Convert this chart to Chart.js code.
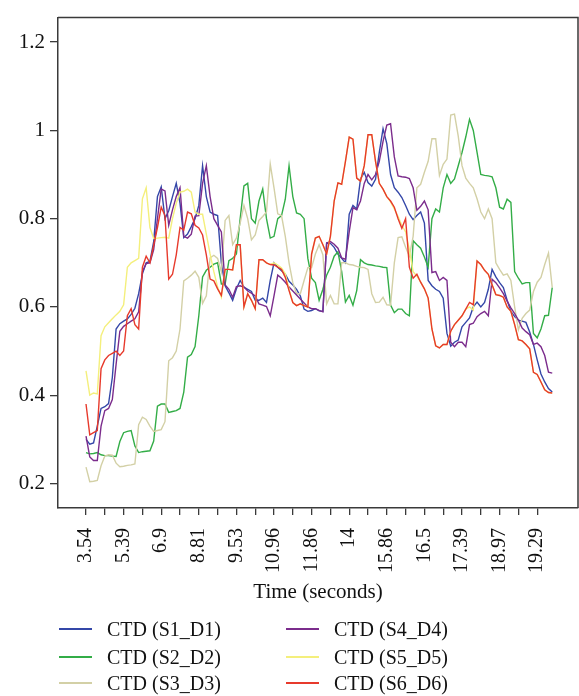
<!DOCTYPE html>
<html><head><meta charset="utf-8">
<script src="https://cdn.jsdelivr.net/npm/chart.js@4/dist/chart.umd.min.js"></script>
<style>
html,body{margin:0;padding:0;background:#fff;}
#wrap{position:relative;width:579px;height:696px;}
#legend{position:absolute;left:0;top:610px;width:579px;height:86px;font-family:"Liberation Serif","Times New Roman",serif;font-size:20px;color:#111;}
.item{position:absolute;display:flex;align-items:center;height:24px;white-space:nowrap;}
.swatch{display:inline-block;width:33px;height:2px;margin-right:15px;}
</style></head>
<body><div id="wrap"><canvas id="c" width="579" height="696"></canvas><div id="legend"></div></div>
<script>
const seriesNames = ['CTD (S1_D1)','CTD (S2_D2)','CTD (S3_D3)','CTD (S4_D4)','CTD (S5_D5)','CTD (S6_D6)'];
const seriesColors = ['#3447a8','#33ad47','#d3d0a6','#7b2c8c','#f4ef7c','#e73a2c'];
const xTickLabels = ['3.54','5.39','6.9','8.81','9.53','10.96','11.86','14','15.86','16.5','17.39','18.97','19.29'];
const xTickIndex = [0,5,10,15,20,25,30,35,40,45,50,55,60,65,70,75,80,85,90,95,100,105,110,115,120];
const yTickValues = [0.2,0.4,0.6,0.8,1.0,1.2];

const s1 = [0.300,0.289,0.292,0.330,0.370,0.374,0.381,0.440,0.550,0.562,
0.568,0.573,0.583,0.597,0.630,0.675,0.700,0.703,0.748,0.850,
0.872,0.800,0.818,0.850,0.880,0.835,0.757,0.765,0.782,0.800,
0.830,0.920,0.850,0.815,0.810,0.807,0.700,0.648,0.632,0.615,
0.641,0.660,0.645,0.640,0.635,0.615,0.615,0.620,0.610,0.660,
0.700,0.690,0.682,0.674,0.658,0.650,0.640,0.625,0.595,0.590,
0.592,0.596,0.591,0.590,0.745,0.744,0.735,0.720,0.710,0.700,
0.810,0.830,0.822,0.890,0.905,0.882,0.874,0.889,0.950,1.004,
0.970,0.900,0.870,0.860,0.848,0.830,0.810,0.798,0.807,0.815,
0.790,0.660,0.648,0.640,0.635,0.620,0.540,0.511,0.520,0.525,
0.555,0.565,0.575,0.600,0.611,0.600,0.610,0.640,0.685,0.668,
0.655,0.644,0.615,0.590,0.578,0.570,0.568,0.565,0.543,0.515,
0.480,0.448,0.430,0.415,0.407];

const s2 = [0.270,0.267,0.268,0.270,0.265,0.263,0.263,0.262,0.261,0.295,
0.315,0.318,0.320,0.285,0.270,0.272,0.273,0.274,0.296,0.375,
0.380,0.380,0.361,0.363,0.365,0.370,0.407,0.486,0.492,0.510,
0.580,0.668,0.683,0.690,0.697,0.700,0.652,0.652,0.705,0.710,
0.720,0.800,0.874,0.880,0.800,0.790,0.840,0.867,0.800,0.756,
0.760,0.800,0.807,0.844,0.920,0.850,0.813,0.810,0.800,0.710,
0.665,0.655,0.615,0.640,0.672,0.690,0.715,0.725,0.680,0.611,
0.626,0.604,0.637,0.707,0.700,0.696,0.695,0.693,0.692,0.690,
0.689,0.604,0.587,0.595,0.595,0.585,0.580,0.750,0.741,0.733,
0.713,0.690,0.800,0.822,0.815,0.870,0.900,0.880,0.890,0.920,
0.950,0.985,1.025,1.000,0.950,0.900,0.898,0.897,0.895,0.870,
0.826,0.822,0.844,0.837,0.680,0.665,0.652,0.655,0.655,0.540,
0.530,0.550,0.580,0.581,0.644];

const s3 = [0.237,0.204,0.205,0.207,0.240,0.262,0.265,0.264,0.246,0.238,
0.239,0.241,0.242,0.244,0.333,0.350,0.345,0.330,0.318,0.320,
0.322,0.340,0.478,0.485,0.500,0.550,0.659,0.665,0.672,0.681,
0.667,0.608,0.625,0.711,0.717,0.710,0.680,0.796,0.807,0.741,
0.756,0.790,0.830,0.800,0.752,0.763,0.796,0.805,0.815,0.924,
0.870,0.811,0.807,0.760,0.700,0.655,0.630,0.630,0.660,0.689,
0.689,0.720,0.741,0.718,0.607,0.626,0.607,0.607,0.700,0.700,
0.696,0.695,0.692,0.690,0.689,0.685,0.630,0.610,0.611,0.622,
0.605,0.604,0.700,0.757,0.759,0.735,0.715,0.760,0.870,0.878,
0.905,0.930,0.981,0.981,0.898,0.923,0.935,1.035,1.037,0.987,
0.920,0.892,0.880,0.870,0.845,0.815,0.800,0.822,0.800,0.700,
0.685,0.672,0.675,0.660,0.600,0.548,0.574,0.585,0.593,0.635,
0.656,0.667,0.696,0.722,0.644];

const s4 = [0.307,0.260,0.252,0.252,0.330,0.365,0.370,0.390,0.470,0.545,
0.556,0.562,0.568,0.573,0.589,0.680,0.698,0.700,0.730,0.800,
0.867,0.863,0.785,0.820,0.850,0.870,0.760,0.756,0.765,0.806,
0.807,0.880,0.920,0.850,0.800,0.785,0.770,0.650,0.640,0.622,
0.646,0.648,0.645,0.636,0.631,0.625,0.607,0.604,0.601,0.580,
0.625,0.672,0.665,0.656,0.645,0.636,0.627,0.618,0.609,0.600,
0.596,0.596,0.592,0.589,0.745,0.748,0.742,0.733,0.711,0.708,
0.770,0.825,0.820,0.840,0.880,0.900,0.888,0.900,0.930,0.975,
1.012,1.015,0.940,0.897,0.895,0.894,0.891,0.870,0.819,0.828,
0.840,0.820,0.678,0.680,0.660,0.667,0.660,0.520,0.510,0.520,
0.520,0.510,0.560,0.563,0.578,0.585,0.590,0.580,0.663,0.655,
0.643,0.630,0.613,0.598,0.585,0.570,0.552,0.544,0.537,0.515,
0.518,0.510,0.490,0.452,0.450];

const s5 = [0.455,0.400,0.405,0.403,0.535,0.555,0.564,0.573,0.582,0.590,
0.605,0.690,0.700,0.705,0.710,0.845,0.870,0.780,0.755,0.756,
0.757,0.758,0.756,0.800,0.835,0.860,0.862,0.867,0.860,0.815,
0.810,0.810,0.765,0.720,0.680,0.645,0.622,0.685,0.685,0.684,
0.741,0.741,0.600,0.630,0.615,0.596,0.707,0.707,0.700,0.696,
0.700,0.695,0.688,0.675,0.640,0.610,0.603,0.607,0.603,0.600,
0.720,0.756,0.760,0.741,0.720,0.760,0.840,0.881,0.878,0.930,
0.985,0.980,0.892,0.885,0.920,0.990,0.990,0.930,0.880,0.867,
0.850,0.838,0.822,0.805,0.785,0.770,0.730,0.680,0.670,0.656,
0.641,0.620,0.550,0.512,0.507,0.515,0.515,0.545,0.560,0.570,
0.580,0.595,0.600,0.593,0.704,0.696,0.683,0.674,0.650,0.628,
0.626,0.622,0.600,0.590,0.560,0.526,0.523,0.515,0.505,0.452,
0.447,0.430,0.412,0.406,0.405];

const s6 = [0.380,0.310,0.315,0.320,0.460,0.480,0.490,0.495,0.500,0.490,
0.500,0.580,0.596,0.560,0.550,0.690,0.715,0.700,0.740,0.780,
0.826,0.807,0.663,0.674,0.718,0.780,0.774,0.815,0.811,0.785,
0.779,0.763,0.718,0.663,0.659,0.641,0.626,0.685,0.685,0.684,
0.741,0.741,0.600,0.630,0.615,0.596,0.707,0.707,0.700,0.696,
0.695,0.690,0.685,0.667,0.637,0.610,0.603,0.607,0.603,0.600,
0.720,0.756,0.760,0.741,0.720,0.760,0.840,0.881,0.878,0.930,
0.985,0.980,0.892,0.885,0.920,0.990,0.990,0.930,0.880,0.867,
0.850,0.840,0.826,0.800,0.778,0.800,0.690,0.665,0.674,0.656,
0.641,0.620,0.550,0.512,0.507,0.515,0.515,0.545,0.560,0.570,
0.580,0.595,0.610,0.605,0.704,0.696,0.683,0.674,0.650,0.628,
0.626,0.622,0.600,0.590,0.560,0.526,0.523,0.515,0.505,0.452,
0.447,0.430,0.412,0.406,0.405];

const seriesValues = [s1,s2,s3,s4,s5,s6];
const serif = '"Liberation Serif","Times New Roman",serif';

const datasets = seriesValues.map((vals, k) => ({
  label: seriesNames[k],
  data: vals.map((v, i) => ({x: i, y: v})),
  borderColor: seriesColors[k],
  backgroundColor: seriesColors[k],
  borderWidth: 1.4,
  pointRadius: 0,
  tension: 0,
  fill: false,
  order: 5 - k
}));

const frame = {
  id: 'frame',
  afterDraw(chart) {
    const {ctx, chartArea: a} = chart;
    ctx.save();
    ctx.strokeStyle = '#3a3a3a';
    ctx.lineWidth = 1.5;
    ctx.beginPath();
    ctx.moveTo(a.left, a.top); ctx.lineTo(a.right, a.top); ctx.lineTo(a.right, a.bottom);
    ctx.stroke();
    ctx.restore();
  }
};

const chart = new Chart(document.getElementById('c'), {
  type: 'line',
  data: { datasets },
  plugins: [frame],
  options: {
    responsive: false,
    animation: false,
    devicePixelRatio: 1,
    layout: { padding: { top: 8, right: 1, bottom: 86, left: 0 } },
    plugins: { legend: { display: false }, tooltip: { enabled: false } },
    scales: {
      x: {
        type: 'linear', min: -7.45, max: 130.85,
        afterBuildTicks: s => { s.ticks = xTickIndex.map(v => ({ value: v })); },
        afterFit: s => { s.height = 102; },
        ticks: {
          autoSkip: false, minRotation: 90, maxRotation: 90, padding: 13,
          color: '#111', font: { family: serif, size: 20 },
          callback: v => (v % 10 === 0 ? xTickLabels[v / 10] : '')
        },
        grid: { display: true, drawOnChartArea: false, drawTicks: true, tickLength: 7, color: '#3a3a3a', lineWidth: 1.3 },
        border: { display: true, color: '#3a3a3a', width: 1.5 },
        title: { display: true, text: 'Time (seconds)', color: '#111', font: { family: serif, size: 21 }, padding: { top: 0, bottom: 5 } }
      },
      y: {
        min: 0.1444, max: 1.2556,
        afterBuildTicks: s => { s.ticks = yTickValues.map(v => ({ value: v })); },
        afterFit: s => { s.width = 58; },
        ticks: {
          padding: 5, color: '#111', font: { family: serif, size: 21 },
          callback: v => String(Number(v.toFixed(1)))
        },
        grid: { display: true, drawOnChartArea: false, drawTicks: true, tickLength: 8, color: '#3a3a3a', lineWidth: 1.3 },
        border: { display: true, color: '#3a3a3a', width: 1.5 }
      }
    }
  }
});

const legend = document.getElementById('legend');
const colX = [59, 286];
const rowTop = [7, 35, 61];
chart.data.datasets.forEach((ds, k) => {
  const item = document.createElement('div');
  item.className = 'item';
  item.style.left = colX[Math.floor(k / 3)] + 'px';
  item.style.top = rowTop[k % 3] + 'px';
  const sw = document.createElement('span');
  sw.className = 'swatch';
  sw.style.background = ds.borderColor;
  const tx = document.createElement('span');
  tx.textContent = ds.label;
  item.appendChild(sw); item.appendChild(tx);
  legend.appendChild(item);
});
</script>
</body></html>
